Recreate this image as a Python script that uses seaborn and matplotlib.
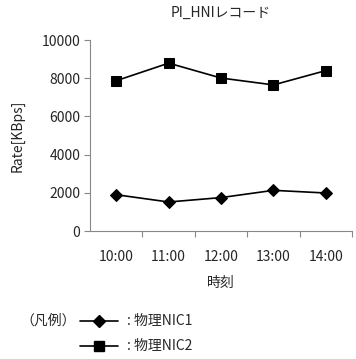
import matplotlib
matplotlib.use("Agg")
import matplotlib.pyplot as plt
from matplotlib.lines import Line2D
import seaborn as sns
import pandas as pd

times = ["10:00", "11:00", "12:00", "13:00", "14:00"]
nic1 = [1900, 1520, 1750, 2130, 1990]
nic2 = [7870, 8790, 8010, 7650, 8400]
series_names = ["物理NIC1", "物理NIC2"]

sns.set_style("white")
plt.rcParams['font.family'] = ['Noto Sans CJK JP', 'DejaVu Sans']

fig = plt.figure(figsize=(3.56, 3.59), dpi=100)
ax = fig.add_axes([0.253, 0.3565, 0.736, 0.532])

pos = list(range(len(times)))
df1 = pd.DataFrame({"pos": pos, "val": nic1})
df2 = pd.DataFrame({"pos": pos, "val": nic2})
sns.lineplot(data=df1, x="pos", y="val", ax=ax, color="black", lw=1.2,
             marker="D", markersize=6, markeredgecolor="black", markerfacecolor="black")
sns.lineplot(data=df2, x="pos", y="val", ax=ax, color="black", lw=1.2,
             marker="s", markersize=7, markeredgecolor="black", markerfacecolor="black")

ax.set_xlim(-0.5, len(times) - 0.5)
ax.set_ylim(0, 10000)
ax.set_yticks([0, 2000, 4000, 6000, 8000, 10000])
ax.set_xticks(pos)
ax.set_xticklabels(times)
ax.set_xticks([p + 0.5 for p in pos], minor=True)
ax.tick_params(axis='x', which='major', length=0, pad=14, labelsize=10)
ax.tick_params(axis='x', which='minor', length=4, width=0.8, color='#888888', direction='out', bottom=True)
ax.tick_params(axis='y', which='major', length=4, width=0.8, color='#888888', direction='out', left=True, labelsize=10, pad=3)

for s in ['top', 'right']:
    ax.spines[s].set_visible(False)
for s in ['left', 'bottom']:
    ax.spines[s].set_color('#888888')
    ax.spines[s].set_linewidth(0.8)

ax.set_xlabel("時刻", fontsize=10, labelpad=8)
ax.set_ylabel("Rate[KBps]", fontsize=10, labelpad=12)
ax.set_title("PI_HNIレコード", fontsize=10, pad=17)

# custom legend below
W, H = 356, 359
def fx(x): return x / W
def fy(y): return 1 - y / H

fig.text(fx(20), fy(321), "（凡例）", fontsize=10, va='center', ha='left')
markers = ["D", "s"]
msizes = [6, 7]
for i, (name, m, ms) in enumerate(zip(series_names, markers, msizes)):
    y = 321 + i * 25
    fig.add_artist(Line2D([fx(80), fx(118)], [fy(y), fy(y)], color='black', lw=1.2,
                          transform=fig.transFigure))
    fig.add_artist(Line2D([fx(99)], [fy(y)], color='black', marker=m, markersize=ms,
                          transform=fig.transFigure))
    fig.text(fx(127), fy(y), ": " + name, fontsize=10, va='center', ha='left')

fig.savefig("out.png", dpi=100)
